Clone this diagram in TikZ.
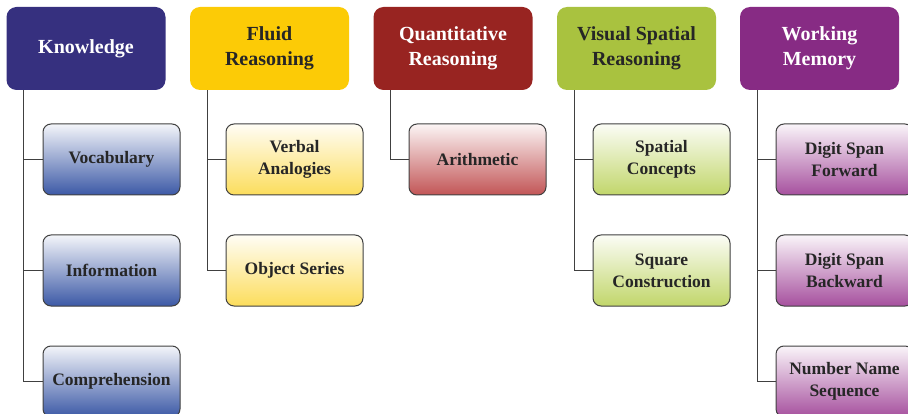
\documentclass[tikz,border=0pt]{standalone}
\usepackage{fontspec}
\setmainfont{Liberation Serif}
\definecolor{knowc}{HTML}{36307F}
\definecolor{fluidc}{HTML}{FCCB06}
\definecolor{quantc}{HTML}{982421}
\definecolor{visc}{HTML}{A9C23F}
\definecolor{wmc}{HTML}{872B84}
\definecolor{knowsub}{HTML}{3C59A6}
\definecolor{fluidsub}{HTML}{FCDD5C}
\definecolor{quantsub}{HTML}{C25556}
\definecolor{vissub}{HTML}{C1D66A}
\definecolor{wmsub}{HTML}{A6509E}
\definecolor{darktext}{HTML}{262626}
\definecolor{linec}{HTML}{404040}
\begin{document}
\begin{tikzpicture}[x=1pt, y=-1pt,
    hdr/.style={rectangle, rounded corners=10pt, minimum width=159pt, minimum height=83pt,
        align=center, text=white, font=\fontsize{20}{25}\selectfont\bfseries},
    sub/.style={rectangle, rounded corners=8pt, draw=linec, line width=1pt,
        minimum width=137pt, minimum height=71pt, align=center, text=darktext,
        top color=#1!6!white, middle color=#1!40!white, bottom color=#1,
        font=\fontsize{17.5}{22}\selectfont\bfseries},
    link/.style={draw=linec, line width=1.2pt}]
    \useasboundingbox (0,0) rectangle (908,414);

    \node[hdr, fill=knowc] (know) at (86,48.5) {Knowledge};
    \node[hdr, fill=fluidc, text=darktext] (fluid) at (269.5,48.5) {Fluid\\Reasoning};
    \node[hdr, fill=quantc] (quant) at (453,48.5) {Quantitative\\Reasoning};
    \node[hdr, fill=visc, text=darktext] (vis) at (636.5,48.5) {Visual Spatial\\Reasoning};
    \node[hdr, fill=wmc] (wm) at (819.5,48.5) {Working\\Memory};

    \node[sub=knowsub] (voc) at (111.5,159.5) {Vocabulary};
    \node[sub=knowsub] (info) at (111.5,270.5) {Information};
    \node[sub=knowsub] (comp) at (111.5,381.5) {Comprehension};

    \node[sub=fluidsub] (verb) at (294.5,159.5) {Verbal\\Analogies};
    \node[sub=fluidsub] (obj) at (294.5,270.5) {Object Series};

    \node[sub=quantsub] (arith) at (477.5,159.5) {Arithmetic};

    \node[sub=vissub] (spat) at (661.5,159.5) {Spatial\\Concepts};
    \node[sub=vissub] (sq) at (661.5,270.5) {Square\\Construction};

    \node[sub=wmsub] (dsf) at (844.5,159.5) {Digit Span\\Forward};
    \node[sub=wmsub] (dsb) at (844.5,270.5) {Digit Span\\Backward};
    \node[sub=wmsub] (nns) at (844.5,381.5) {Number Name\\Sequence};

    \draw[link] ([xshift=17.5pt]know.south west) |- (voc.west);
    \draw[link] ([xshift=17.5pt]know.south west) |- (info.west);
    \draw[link] ([xshift=17.5pt]know.south west) |- (comp.west);
    \draw[link] ([xshift=17.5pt]fluid.south west) |- (verb.west);
    \draw[link] ([xshift=17.5pt]fluid.south west) |- (obj.west);
    \draw[link] ([xshift=17.5pt]quant.south west) |- (arith.west);
    \draw[link] ([xshift=17.5pt]vis.south west) |- (spat.west);
    \draw[link] ([xshift=17.5pt]vis.south west) |- (sq.west);
    \draw[link] ([xshift=17.5pt]wm.south west) |- (dsf.west);
    \draw[link] ([xshift=17.5pt]wm.south west) |- (dsb.west);
    \draw[link] ([xshift=17.5pt]wm.south west) |- (nns.west);
\end{tikzpicture}
\end{document}
